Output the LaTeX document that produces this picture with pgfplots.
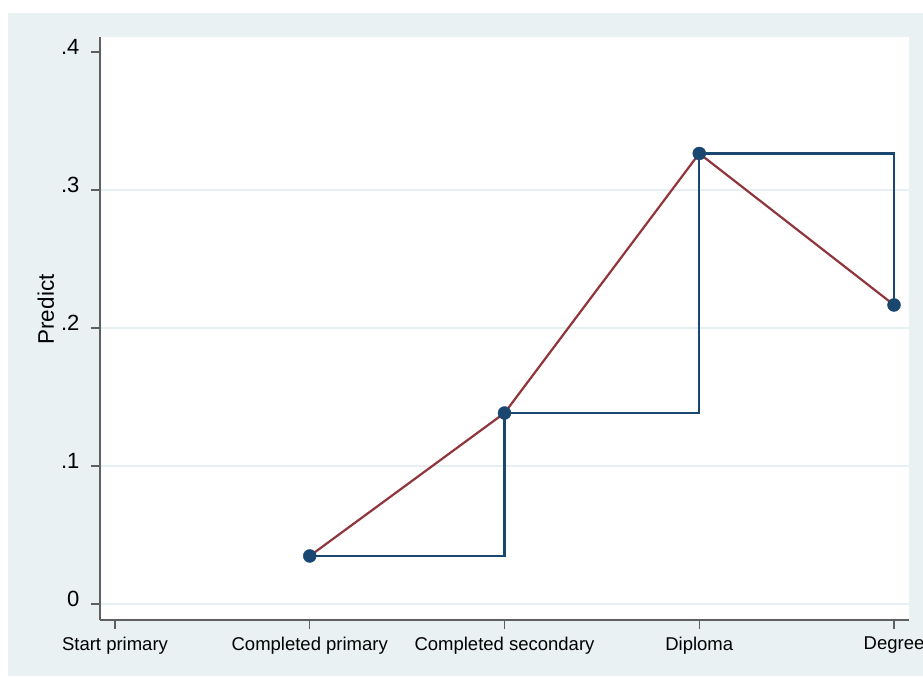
\documentclass[border=0pt]{standalone}
\usepackage{fontspec}
\setmainfont{Liberation Sans}
\usepackage{pgfplots}
\pgfplotsset{compat=1.18}
\definecolor{bgc}{RGB}{233,241,243}
\definecolor{gridc}{RGB}{230,239,241}
\definecolor{navyc}{RGB}{26,71,111}
\definecolor{maroonc}{RGB}{144,53,59}
\definecolor{axc}{RGB}{95,95,95}
\begin{document}
\begin{tikzpicture}[x=1pt,y=1pt]
\useasboundingbox (0,0) rectangle (923,677);
\clip (0,0) rectangle (923,677);
\fill[white] (0,0) rectangle (923,677);
\fill[bgc] (8,1) rectangle (923,664.3);
\begin{axis}[
  at={(100pt,57pt)}, anchor=south west,
  scale only axis, width=809pt, height=583pt,
  xmin=-0.077, xmax=4.077, ymin=-0.0116, ymax=0.4109,
  axis background/.style={fill=white},
  axis x line*=bottom, axis y line*=left,
  axis line style={draw=axc, line width=1.3pt},
  tick align=outside, major tick length=9pt,
  every tick/.style={draw=axc, line width=1.3pt},
  xtick={0,1,2,3,4},
  xticklabels={Start primary, Completed primary, Completed secondary, Diploma, Degree},
  xticklabel style={font=\fontsize{18.5}{20}\selectfont, yshift=-4.5pt},
  ytick={0,0.1,0.2,0.3}, yticklabels={0,.1,.2,.3},
  extra y ticks={0.4}, extra y tick labels={.4},
  extra y tick style={grid=none},
  ymajorgrids, grid style={draw=gridc, line width=1.6pt},
  yticklabel style={font=\fontsize{22}{22}\selectfont, xshift=-8pt, yshift=5pt},
  ylabel={Predict},
  ylabel style={font=\fontsize{22.5}{22.5}\selectfont, at={(axis description cs:-0.0569,0.5326)}, anchor=base, rotate=0},
  clip=false,
]
\addplot[const plot, draw=navyc, line width=2.3pt] coordinates {(1,0.0348) (2,0.1384) (3,0.3265) (4,0.2167)};
\addplot[only marks, mark=*, mark size=6.5pt, mark options={draw=navyc, fill=navyc}] coordinates {(1,0.0348) (2,0.1384) (3,0.3265) (4,0.2167)};
\addplot[draw=maroonc, line width=2.2pt] coordinates {(1,0.0348) (2,0.1384) (3,0.3265) (4,0.2167)};
\end{axis}
\end{tikzpicture}
\end{document}
